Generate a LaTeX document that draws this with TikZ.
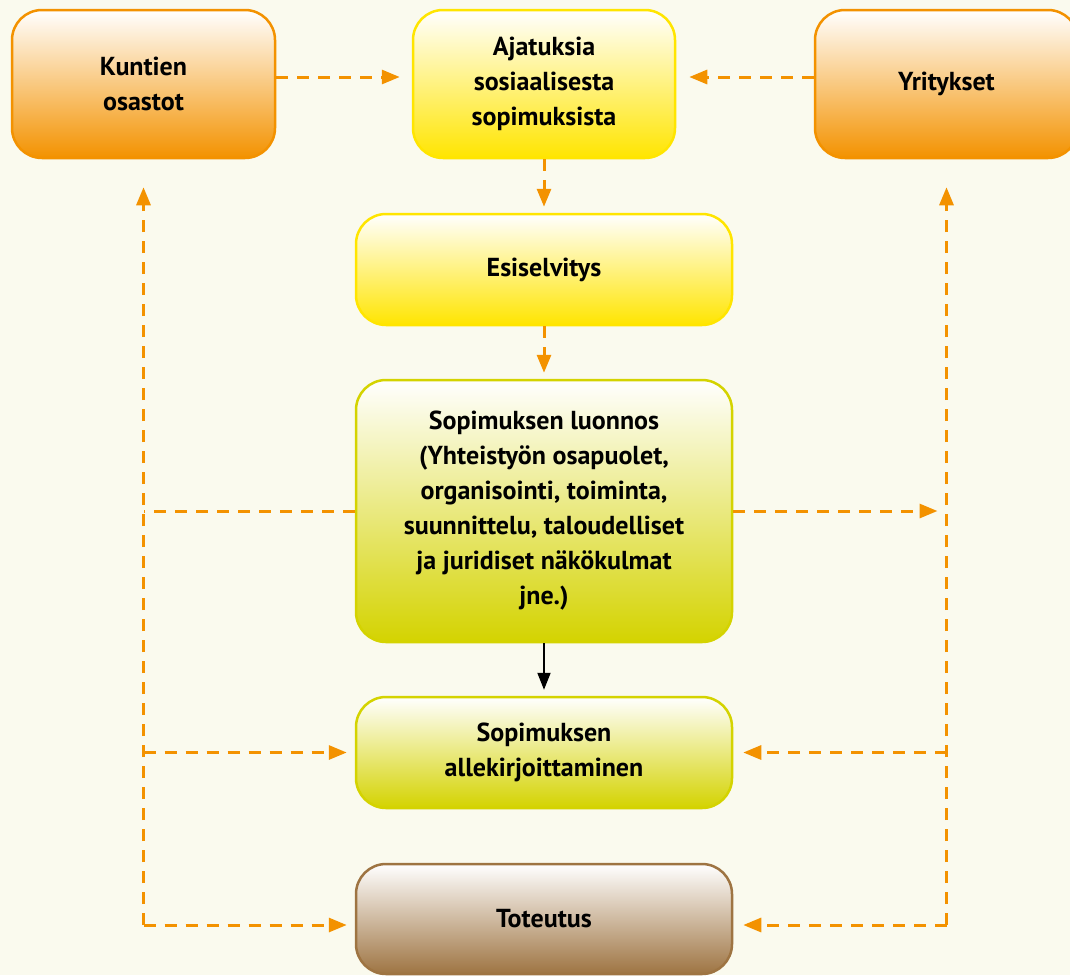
\documentclass[tikz,border=0pt]{standalone}
\usepackage{fontspec}
\setmainfont{PT Sans}
\usetikzlibrary{arrows.meta}
\definecolor{bg}{RGB}{250,250,238}
\definecolor{org}{RGB}{243,146,0}
\definecolor{yel}{RGB}{255,229,0}
\definecolor{lime}{RGB}{212,211,0}
\definecolor{brn}{RGB}{158,116,66}
\tikzset{
  box/.style={rounded corners=30pt, draw, line width=2.5pt, align=center,
    font=\fontsize{26}{35}\selectfont\bfseries, inner sep=0pt, text=black},
  obox/.style={box, draw=org, top color=white, bottom color=org,
    minimum width=263pt, minimum height=148pt},
  ybox/.style={box, draw=yel, top color=white, bottom color=yel},
  lbox/.style={box, draw=lime, top color=white, bottom color=lime,
    minimum width=376pt},
  bbox/.style={box, draw=brn, top color=white, bottom color=brn,
    minimum width=376pt},
  conn/.style={draw=org, line width=3pt, dash pattern=on 12pt off 9pt,
    -{Triangle[length=18pt,width=14pt]}},
  dline/.style={draw=org, line width=3pt, dash pattern=on 12pt off 9pt},
  sconn/.style={draw=black, line width=2pt, -{Triangle[length=17pt,width=13pt]}}
}
\begin{document}
\begin{tikzpicture}[x=1pt,y=-1pt]
\fill[bg] (0,0) rectangle (1070,975);
\clip (0,0) rectangle (1070,975);
\node[obox] (kunt) at (143.5,84) {Kuntien\\osastot};
\node[ybox, minimum width=262pt, minimum height=148pt] (ajat) at (544,84) {Ajatuksia\\sosiaalisesta\\sopimuksista};
\node[obox] (yrit) at (946.5,84) {Yritykset};
\node[ybox, minimum width=376pt, minimum height=111pt] (esis) at (544,269.5) {Esiselvitys};
\node[lbox, minimum height=262pt] (luon) at (544,511) {Sopimuksen luonnos\\(Yhteistyön osapuolet,\\organisointi, toiminta,\\suunnittelu, taloudelliset\\ja juridiset näkökulmat\\jne.)};
\node[lbox, minimum height=111pt] (alle) at (544,752.5) {Sopimuksen\\allekirjoittaminen};
\node[bbox, minimum height=110pt] (tote) at (544,919) {Toteutus};

\coordinate (lb) at ([yshift=-6pt]tote.west -| kunt.south);
\coordinate (rb) at ([yshift=-6pt]tote.east -| yrit.south);

\draw[conn, shorten >=12pt] ([yshift=7pt]kunt.east) -- ([yshift=7pt]ajat.west);
\draw[conn, shorten >=13pt] ([yshift=7pt]yrit.west) -- ([yshift=7pt]ajat.east);
\draw[conn, shorten >=6pt] (ajat.south) -- (esis.north);
\draw[conn, shorten >=6pt] (esis.south) -- (luon.north);
\draw[sconn, shorten >=6pt] (luon.south) -- (alle.north);

\draw[conn, shorten >=28pt] (lb) -- (kunt.south);
\draw[dline] (luon.west) -- (luon.west -| kunt.south);
\draw[conn, shorten >=8pt] (alle.west -| kunt.south) -- (alle.west);
\draw[conn, shorten >=8pt] (lb) -- ([yshift=-6pt]tote.west);

\draw[conn, shorten >=28pt] (rb) -- (yrit.south);
\draw[conn, shorten >=9pt] (luon.east) -- (luon.east -| yrit.south);
\draw[conn, shorten >=10pt] (alle.east -| yrit.south) -- (alle.east);
\draw[conn, shorten >=10pt] (rb) -- ([yshift=-6pt]tote.east);
\end{tikzpicture}
\end{document}
